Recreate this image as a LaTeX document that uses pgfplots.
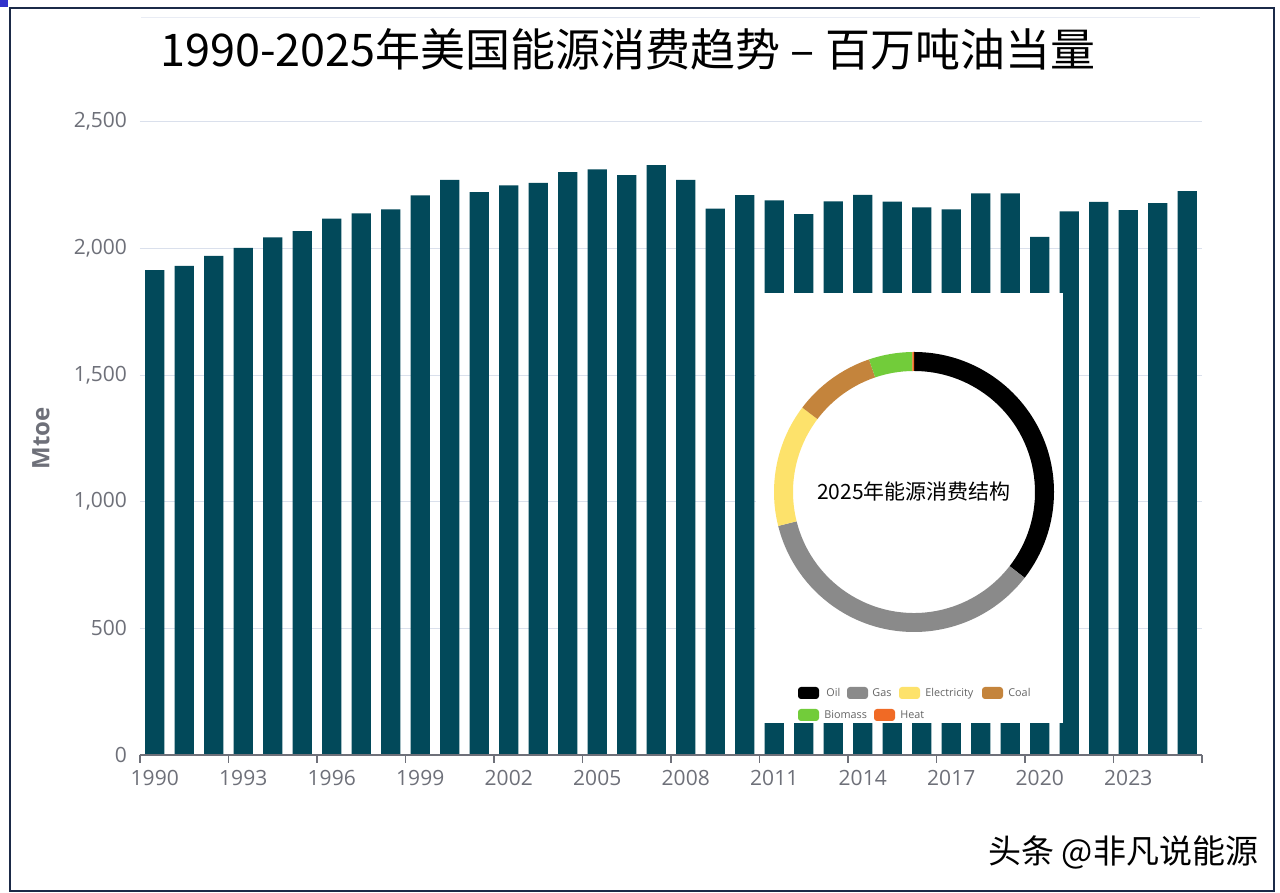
\documentclass[border=0pt]{standalone}
\usepackage{fontspec}
\setmainfont{Open Sans}
\newfontfamily\cjk{Noto Sans CJK SC}
\usepackage{pgfplots}
\pgfplotsset{compat=1.18}
\usepackage{pgfplotstable}

\definecolor{barcol}{RGB}{2,73,90}
\definecolor{axisgray}{RGB}{110,112,121}
\definecolor{gridgray}{RGB}{218,224,236}
\definecolor{framecol}{RGB}{27,42,72}
\definecolor{oilc}{RGB}{0,0,0}
\definecolor{gasc}{RGB}{138,138,138}
\definecolor{elecc}{RGB}{253,226,107}
\definecolor{coalc}{RGB}{196,132,60}
\definecolor{bioc}{RGB}{114,204,58}
\definecolor{heatc}{RGB}{240,106,37}
\definecolor{legtext}{RGB}{100,100,100}

\pgfplotstableread{
year value
1990 1914
1991 1931
1992 1970
1993 2002
1994 2043
1995 2068
1996 2117
1997 2138
1998 2154
1999 2209
2000 2270
2001 2222
2002 2249
2003 2258
2004 2301
2005 2312
2006 2289
2007 2329
2008 2270
2009 2157
2010 2210
2011 2189
2012 2135
2013 2185
2014 2211
2015 2184
2016 2162
2017 2154
2018 2217
2019 2217
2020 2045
2021 2146
2022 2183
2023 2151
2024 2179
2025 2226
}\consumption

\begin{document}
\begin{tikzpicture}
\useasboundingbox (0,0) rectangle (640pt,446.5pt);
\fill[white] (0,0) rectangle (640pt,446.5pt);
\begin{axis}[
  at={(70pt,69pt)}, anchor=south west,
  scale only axis, width=531pt, height=316.65pt,
  xmin=1989.5, xmax=2025.5, ymin=0, ymax=2500,
  axis x line*=bottom, axis y line*=left,
  y axis line style={draw=none},
  x axis line style={draw=axisgray, line width=0.7pt},
  xtick={1990,1993,...,2023},
  minor xtick={1989.5,1992.5,...,2025.5},
  ytick={0,500,...,2500},
  major tick length=0pt, minor tick length=4pt,
  tick align=outside,
  minor x tick style={draw=axisgray, line width=0.6pt},
  ymajorgrids, major grid style={draw=gridgray, line width=0.5pt},
  scaled y ticks=false,
  /pgf/number format/assume math mode=true,
  tick label style={font=\fontsize{10.5}{12}\selectfont, text=axisgray},
  x tick label style={/pgf/number format/1000 sep={}, yshift=-4pt},
  y tick label style={xshift=-3pt},
  ylabel={Mtoe},
  every axis y label/.style={at={(axis description cs:-0.0932,0.5)}, rotate=90, anchor=center,
     font=\bfseries\fontsize{12}{14}\selectfont, text=axisgray},
]
\addplot[ybar, bar width=0.66, fill=barcol, draw=none] table[x=year,y=value]{\consumption};
\draw[axisgray, line width=0.7pt] (axis cs:1989.5,0) -- (axis cs:2025.5,0);
\end{axis}

% title and frame
\draw[gridgray!60, line width=0.5pt] (70.5pt,437.5pt) -- (600pt,437.5pt);
\node[anchor=base west, inner sep=0, font=\cjk\fontsize{22.5}{26}\selectfont] at (80pt,413pt) {1990-2025年美国能源消费趋势 – 百万吨油当量};

% inset
\fill[white] (378pt,85pt) rectangle (531.5pt,300pt);
\def\cx{457pt}\def\cy{200.5pt}
\def\ro{70pt}\def\ri{60.5pt}
\foreach \share/\col [remember=\b as \a (initially 90)] in {35.5/oilc, 35.6/gasc, 14.2/elecc, 9.5/coalc, 5.0/bioc, 0.2/heatc} {
  \pgfmathsetmacro{\b}{\a-3.6*\share}
  \fill[\col] ([shift={(\cx,\cy)}]\a:\ro) arc[start angle=\a, end angle=\b, radius=\ro]
     -- ([shift={(\cx,\cy)}]\b:\ri) arc[start angle=\b, end angle=\a, radius=\ri] -- cycle;
}
\node[font=\cjk\fontsize{10.5}{12}\selectfont] at (457pt,201pt) {2025年能源消费结构};

% legend
\foreach \sx/\tx/\yy/\col/\name in {399/413/100/oilc/Oil, 423.5/436/100/gasc/Gas, 449.5/462.5/100/elecc/Electricity, 491/504/100/coalc/Coal, 399/412/89/bioc/Biomass, 437/450/89/heatc/Heat} {
  \fill[\col, rounded corners=1.5pt] (\sx pt,\yy pt-3pt) rectangle ++(10.5pt,6pt);
  \node[anchor=base west, inner sep=0, font=\fontsize{5.4}{6}\selectfont, text=legtext] at (\tx pt,\yy pt-2pt) {\name};
}

% watermark
\node[anchor=west, inner sep=0, font=\cjk\fontsize{16.5}{18}\selectfont] at (494pt,20.5pt) {头条 @非凡说能源};

\fill[blue!60!gray] (0pt,443pt) rectangle (4pt,446.5pt);
\draw[framecol, line width=1pt] (4.8pt,1pt) rectangle (637pt,442.5pt);
\end{tikzpicture}
\end{document}
